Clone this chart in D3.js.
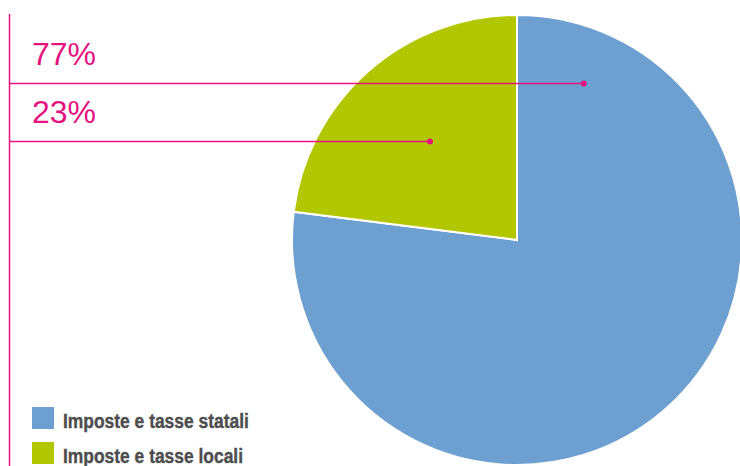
<!DOCTYPE html>
<html>
<head>
<meta charset="utf-8">
<script src="https://cdn.jsdelivr.net/npm/d3@7"></script>
<style>
  html, body { margin: 0; padding: 0; background: #fff; }
  svg { display: block; }
</style>
</head>
<body>
<div id="chart"></div>
<script>
// Revenue split: state vs local taxes
const categories = ["Imposte e tasse statali", "Imposte e tasse locali"];
const values = [77, 23];
const labels = ["77%", "23%"];
const colors = ["#6e9fd1", "#b3c700"];

const W = 740, H = 466;
const accent = "#e3147f";

const svg = d3.select("#chart").append("svg")
  .attr("width", W).attr("height", H);

// Pie geometry
const cx = 517, cy = 240, R = 225;

const pie = d3.pie().sort(null).value(d => d.value);
const arcs = pie(categories.map((c, i) => ({ name: c, value: values[i], color: colors[i], label: labels[i] })));
const arc = d3.arc().innerRadius(0).outerRadius(R);

const g = svg.append("g").attr("transform", `translate(${cx},${cy})`);
g.selectAll("path.slice")
  .data(arcs)
  .join("path")
  .attr("class", "slice")
  .attr("d", arc)
  .attr("fill", d => d.data.color)
  .attr("stroke", "#fff")
  .attr("stroke-width", 2)
  .attr("stroke-linejoin", "miter");

// Leader anchors inside each slice: angle along the slice and radial fraction
const anchorSpec = [
  { t: 0.083, rf: 0.76 },
  { t: 0.5, rf: 0.585 }
];
const anchors = arcs.map((a, i) => {
  const ang = a.startAngle + (a.endAngle - a.startAngle) * anchorSpec[i].t;
  const r = R * anchorSpec[i].rf;
  return { x: cx + r * Math.sin(ang), y: cy - r * Math.cos(ang), label: a.data.label };
});

// Vertical rule on the left
const ruleX = 9.5;
svg.append("line")
  .attr("x1", ruleX).attr("x2", ruleX)
  .attr("y1", 14).attr("y2", H)
  .attr("stroke", accent).attr("stroke-width", 1.5);

// Horizontal leaders with end dots and percentage labels
anchors.forEach((a, i) => {
  const ly = Math.round(a.y) + 0.5;
  svg.append("line")
    .attr("x1", ruleX).attr("x2", a.x)
    .attr("y1", ly).attr("y2", ly)
    .attr("stroke", accent).attr("stroke-width", 1.5);
  svg.append("circle")
    .attr("cx", a.x).attr("cy", ly).attr("r", 3)
    .attr("fill", accent);
  svg.append("text")
    .attr("x", 32).attr("y", ly - 19)
    .attr("font-family", "'Liberation Sans', Arial, Helvetica, sans-serif")
    .attr("font-size", 32)
    .attr("fill", accent)
    .text(a.label);
});

// Legend (condensed bold labels)
const legend = svg.append("g").attr("transform", "translate(32,407)");
const item = legend.selectAll("g")
  .data(arcs)
  .join("g")
  .attr("transform", (d, i) => `translate(0,${i * 35})`);
item.append("rect")
  .attr("width", 22).attr("height", 22)
  .attr("fill", d => d.data.color);
const legendText = item.append("text")
  .attr("font-family", "'Liberation Sans', Arial, sans-serif")
  .attr("font-weight", "bold")
  .attr("font-size", 21)
  .attr("fill", "#4d4d4d")
  .attr("stroke", "#4d4d4d")
  .attr("stroke-width", 0.4)
  .text(d => d.data.name);

// Narrow the legend labels so the longest spans the condensed width
const labelWidth = 186;
const widest = d3.max(legendText.nodes(), n => n.getComputedTextLength());
const sx = labelWidth / widest;
legendText.attr("transform", `translate(31,20.5) scale(${sx},1)`);
</script>
</body>
</html>
